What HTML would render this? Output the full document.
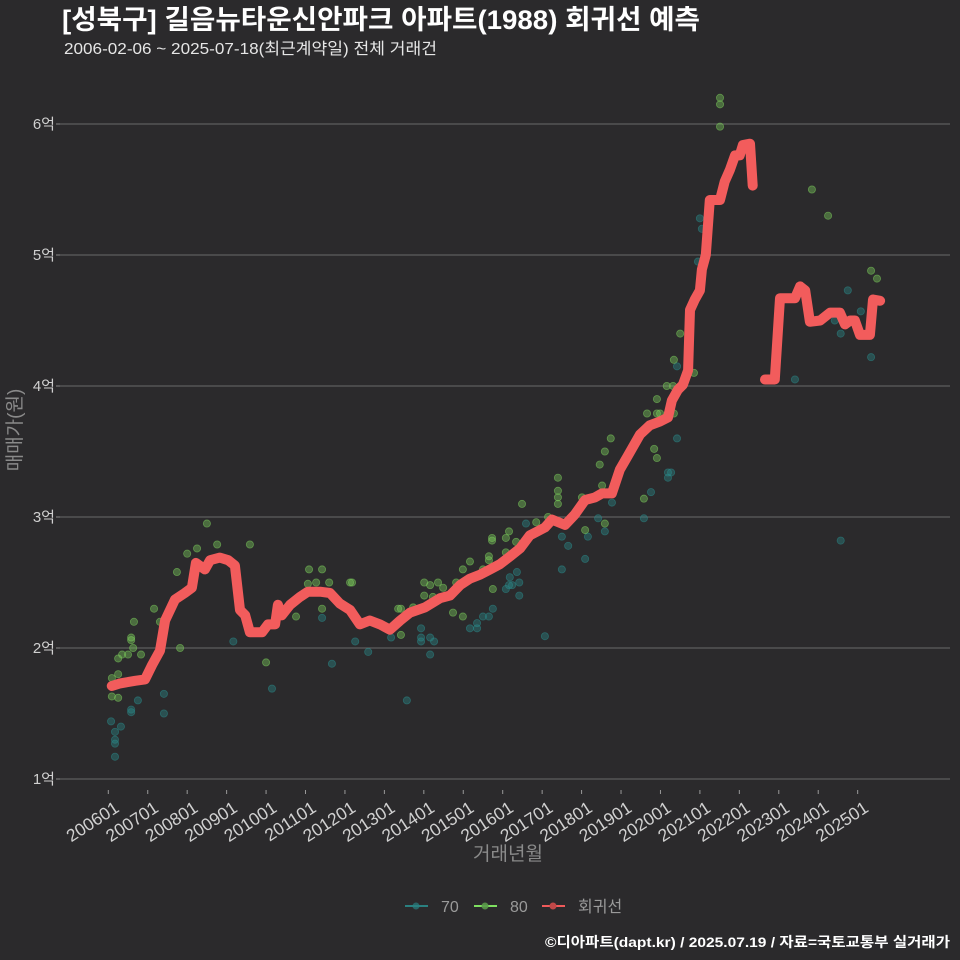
<!DOCTYPE html>
<html><head><meta charset="utf-8">
<style>
html,body{margin:0;padding:0;background:#2b2a2c;}
svg{display:block;font-family:"Liberation Sans","Noto Sans CJK KR",sans-serif;}
</style></head>
<body>
<svg id="chart" width="960" height="960">
<rect x="0" y="0" width="960" height="960" fill="#2b2a2c"/>
<text x="62" y="29" fill="#ffffff" font-size="27" font-weight="bold" textLength="638" lengthAdjust="spacingAndGlyphs">[성북구] 길음뉴타운신안파크 아파트(1988) 회귀선 예측</text>
<text x="64" y="54" fill="#e6e6e6" font-size="16" textLength="373" lengthAdjust="spacingAndGlyphs">2006-02-06 ~ 2025-07-18(최근계약일) 전체 거래건</text>
<g id="grid"></g>
<g id="xaxis"></g>
<g id="pts"></g>
<g id="line"></g>
<text x="0" y="0" transform="translate(21,430) rotate(-90)" text-anchor="middle" fill="#8a8a8a" font-size="19">매매가(원)</text>
<text x="508" y="860" text-anchor="middle" fill="#8a8a8a" font-size="19">거래년월</text>
<g>
<g><line x1="405" y1="906" x2="428" y2="906" stroke="#2a8080" stroke-width="2"/><circle cx="416" cy="906" r="3.5" fill="#2a8080" opacity="0.7"/><text x="441" y="912" fill="#9a9a9a" font-size="16">70</text></g>
<g><line x1="474" y1="906" x2="497" y2="906" stroke="#7ee060" stroke-width="2"/><circle cx="485" cy="906" r="3.5" fill="#5a9a4a" opacity="0.9"/><text x="510" y="912" fill="#9a9a9a" font-size="16">80</text></g>
<g><line x1="542" y1="906" x2="565" y2="906" stroke="#f05a5a" stroke-width="2"/><circle cx="553" cy="906" r="3.5" fill="#c04848"/><text x="578" y="912" fill="#9a9a9a" font-size="16">회귀선</text></g>
</g>
<text x="950" y="947" text-anchor="end" fill="#ffffff" font-size="14" font-weight="bold" textLength="405" lengthAdjust="spacingAndGlyphs">©디아파트(dapt.kr) / 2025.07.19 / 자료=국토교통부 실거래가</text>
</svg>
<script>
const yTicks=[1,2,3,4,5,6];
const yTickLabels=["1억","2억","3억","4억","5억","6억"];
const xTicks=[2006,2007,2008,2009,2010,2011,2012,2013,2014,2015,2016,2017,2018,2019,2020,2021,2022,2023,2024,2025];
const xTickLabels=["200601","200701","200801","200901","201001","201101","201201","201301","201401","201501","201601","201701","201801","201901","202001","202101","202201","202301","202401","202501"];
const lineT1=[2006.09,2006.30,2006.68,2006.93,2007.11,2007.31,2007.44,2007.69,2007.94,2008.12,2008.22,2008.45,2008.58,2008.83,2009.04,2009.21,2009.34,2009.47,2009.59,2009.90,2010.05,2010.23,2010.30,2010.40,2010.61,2010.86,2011.06,2011.37,2011.62,2011.87,2012.13,2012.38,2012.63,2012.89,2013.14,2013.40,2013.65,2014.03,2014.41,2014.66,2014.92,2015.17,2015.43,2015.68,2015.93,2016.19,2016.44,2016.69,2017.07,2017.25,2017.58,2017.83,2018.09,2018.34,2018.52,2018.77,2018.97,2019.18,2019.48,2019.73,2019.99,2020.19,2020.29,2020.44,2020.57,2020.70,2020.75,2020.87,2021.00,2021.05,2021.15,2021.25,2021.51,2021.63,2021.76,2021.89,2022.01,2022.09,2022.27,2022.34];
const lineV1=[1.71,1.73,1.75,1.76,1.87,1.98,2.21,2.37,2.42,2.46,2.65,2.60,2.67,2.69,2.67,2.63,2.29,2.25,2.12,2.12,2.18,2.18,2.33,2.25,2.33,2.39,2.43,2.43,2.42,2.34,2.29,2.18,2.21,2.18,2.14,2.21,2.27,2.31,2.38,2.40,2.48,2.53,2.56,2.60,2.64,2.70,2.76,2.86,2.92,2.98,2.94,3.02,3.13,3.15,3.18,3.18,3.36,3.47,3.63,3.70,3.73,3.76,3.89,3.97,4.01,4.12,4.58,4.66,4.73,4.89,5.00,5.42,5.42,5.56,5.65,5.76,5.76,5.84,5.85,5.53];
const lineT2=[2022.65,2022.90,2023.03,2023.41,2023.54,2023.67,2023.79,2024.05,2024.30,2024.55,2024.68,2024.81,2024.93,2025.06,2025.31,2025.39,2025.57];
const lineV2=[4.05,4.05,4.67,4.67,4.76,4.73,4.49,4.50,4.56,4.56,4.47,4.50,4.50,4.39,4.39,4.66,4.65];
const g80T=[2008.50,2008.76,2009.59,2008.00,2008.25,2007.74,2007.16,2006.65,2006.58,2006.58,2006.63,2006.25,2006.35,2006.50,2006.83,2007.82,2006.09,2006.25,2006.09,2006.25,2010.00,2011.09,2011.42,2011.06,2011.27,2011.60,2011.42,2010.76,2012.13,2007.31,2017.40,2017.40,2017.40,2017.40,2016.49,2018.52,2018.01,2016.85,2016.16,2015.73,2015.73,2016.08,2016.34,2016.08,2015.65,2015.65,2015.17,2014.99,2015.50,2015.75,2014.82,2014.01,2014.16,2014.36,2014.49,2014.01,2014.23,2013.35,2013.42,2013.73,2014.74,2014.99,2013.42,2012.18,2018.09,2018.59,2017.15,2021.51,2021.51,2021.51,2023.84,2024.25,2025.34,2025.49,2020.50,2020.34,2020.85,2020.16,2020.32,2019.91,2019.66,2019.91,2019.99,2020.34,2018.74,2018.59,2019.84,2019.91,2019.58,2018.46];
const g80V=[2.95,2.79,2.79,2.72,2.76,2.58,2.30,2.20,2.08,2.06,2.00,1.92,1.95,1.95,1.95,2.00,1.77,1.80,1.63,1.62,1.89,2.60,2.60,2.49,2.50,2.50,2.30,2.24,2.50,2.20,3.30,3.20,3.15,3.10,3.10,3.24,3.15,2.96,2.89,2.84,2.82,2.84,2.81,2.73,2.70,2.67,2.66,2.60,2.60,2.45,2.50,2.50,2.48,2.50,2.46,2.40,2.39,2.30,2.30,2.31,2.27,2.24,2.10,2.50,2.90,2.95,3.00,6.20,6.15,5.98,5.50,5.30,4.88,4.82,4.40,4.20,4.10,4.00,4.00,3.90,3.79,3.79,3.79,3.79,3.60,3.50,3.52,3.45,3.14,3.40];
const g70T=[2009.17,2006.07,2006.17,2006.17,2006.17,2006.17,2006.32,2006.58,2006.58,2006.75,2007.41,2007.41,2010.15,2011.42,2011.67,2012.26,2012.59,2013.57,2013.17,2013.93,2013.93,2013.93,2014.16,2014.26,2014.16,2015.17,2015.35,2015.35,2015.50,2015.65,2015.75,2016.08,2016.16,2016.24,2016.36,2016.42,2016.42,2016.18,2016.59,2017.07,2017.50,2017.66,2017.50,2018.09,2018.16,2018.42,2021.00,2021.05,2020.95,2020.42,2020.42,2020.19,2020.27,2020.19,2019.76,2019.58,2018.59,2018.77,2023.41,2024.75,2025.08,2024.42,2024.57,2025.34,2024.57];
const g70V=[2.05,1.44,1.36,1.30,1.27,1.17,1.40,1.53,1.51,1.60,1.65,1.50,1.69,2.23,1.88,2.05,1.97,1.60,2.08,2.15,2.08,2.05,2.08,2.05,1.95,2.15,2.15,2.19,2.24,2.24,2.30,2.45,2.48,2.48,2.58,2.50,2.40,2.54,2.95,2.09,2.85,2.78,2.60,2.68,2.85,2.99,5.28,5.20,4.95,4.15,3.60,3.34,3.34,3.30,3.19,2.99,2.89,3.11,4.05,4.73,4.57,4.50,4.40,4.22,2.82];

const NS="http://www.w3.org/2000/svg";
function xs(t){return 108.3+(t-2006)*39.44;}
function ys(v){return 779-(v-1)*131;}
function mk(tag,attrs,parent){const e=document.createElementNS(NS,tag);for(const k in attrs)e.setAttribute(k,attrs[k]);parent.appendChild(e);return e;}

const grid=document.getElementById('grid');
yTicks.forEach((v,i)=>{
  const gl=mk('line',{x1:60,x2:950,y1:ys(v),y2:ys(v),stroke:'#6a6a6a','stroke-width':1},grid);
  
  
  mk('line',{x1:56,x2:60,y1:ys(v),y2:ys(v),stroke:'#888','stroke-width':1},grid);
  const tx=mk('text',{x:55,y:ys(v)+5,'text-anchor':'end',fill:'#d0d0d0','font-size':15},grid);
  tx.textContent=yTickLabels[i];
  
  
});
const xa=document.getElementById('xaxis');
xTicks.forEach((t,i)=>{
  const x=xs(t);
  mk('line',{x1:x,x2:x,y1:790,y2:794,stroke:'#999','stroke-width':1},xa);
  const tx=mk('text',{x:0,y:0,transform:`translate(${x+5},${800}) rotate(-33)`,'text-anchor':'end',fill:'#d0d0d0','font-size':17.5,'dominant-baseline':'hanging'},xa);
  tx.textContent=xTickLabels[i];
  
  
});
const pts=document.getElementById('pts');
g70T.forEach((t,i)=>{
  const c=mk('circle',{cx:xs(t),cy:ys(g70V[i]),r:3.6,fill:'#2a8a8a','fill-opacity':0.4,stroke:'#2a8a8a','stroke-opacity':0.55,'stroke-width':0.8},pts);
  
  
});
g80T.forEach((t,i)=>{
  const c=mk('circle',{cx:xs(t),cy:ys(g80V[i]),r:3.6,fill:'#7ecf5c','fill-opacity':0.4,stroke:'#7ecf5c','stroke-opacity':0.55,'stroke-width':0.8},pts);
  
  
});
const lg=document.getElementById('line');
[[lineT1,lineV1],[lineT2,lineV2]].forEach(([T,V])=>{
  const d=T.map((t,i)=>(i?'L':'M')+xs(t).toFixed(1)+','+ys(V[i]).toFixed(1)).join(' ');
  const p=mk('path',{d:d,fill:'none',stroke:'#f25c5c','stroke-width':10,'stroke-linejoin':'round','stroke-linecap':'round'},lg);
  
  
});
</script>
</body></html>
